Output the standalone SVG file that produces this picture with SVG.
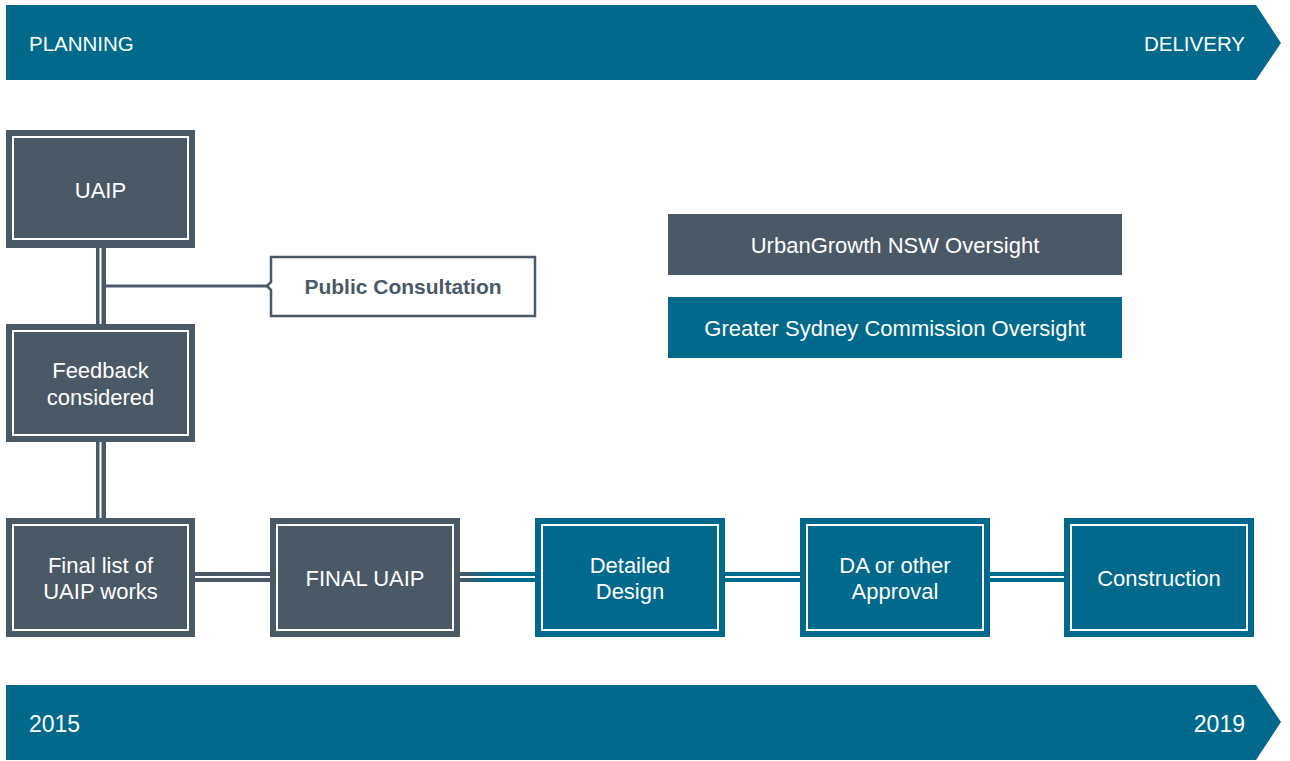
<svg xmlns="http://www.w3.org/2000/svg" width="1290" height="761" viewBox="0 0 1290 761">
  <defs>
    <style>
      .gray { fill: #4b5966; }
      .teal { fill: #00698c; }
      .inner { fill: none; stroke: #ffffff; stroke-width: 2; }
      .lbl { font-family: "Liberation Sans", Arial, sans-serif; font-size: 22px; fill: #ffffff; text-anchor: middle; }
      .leg { font-family: "Liberation Sans", Arial, sans-serif; font-size: 22px; fill: #ffffff; text-anchor: middle; }
      .ban { font-family: "Liberation Sans", Arial, sans-serif; font-size: 20.5px; fill: #ffffff; }
      .yr { font-family: "Liberation Sans", Arial, sans-serif; font-size: 23px; fill: #ffffff; }
      .wline { fill: none; stroke: #ffffff; stroke-width: 2; }
      .pc { font-family: "Liberation Sans", Arial, sans-serif; font-size: 21px; font-weight: bold; fill: #4b5966; text-anchor: middle; }
    </style>
    <linearGradient id="g2t" x1="460" y1="0" x2="535" y2="0" gradientUnits="userSpaceOnUse">
      <stop offset="0" stop-color="#4b5966"/>
      <stop offset="0.45" stop-color="#00698c"/>
      <stop offset="1" stop-color="#00698c"/>
    </linearGradient>
  </defs>

  <!-- Banners -->
  <g id="banner-top">
    <polygon class="teal" points="6,5 1256,5 1281,43 1256,80 6,80"/>
    <text class="ban" x="29" y="50.5">PLANNING</text>
    <text class="ban" x="1245" y="50.5" text-anchor="end">DELIVERY</text>
  </g>
  <g id="banner-bottom">
    <polygon class="teal" points="6,685 1256,685 1281,722 1256,760 6,760"/>
    <text class="yr" x="29" y="732">2015</text>
    <text class="yr" x="1245" y="732" text-anchor="end">2019</text>
  </g>

  <!-- Connectors -->
  <g id="connectors">
    <rect class="gray" x="96" y="247" width="10" height="78"/>
    <path class="wline" d="M96.5,239 L100.5,243 L104.5,239 M100.5,243 V332"/>
    <line x1="106" y1="286" x2="268" y2="286" stroke="#4b5966" stroke-width="3"/>
    <rect class="gray" x="96" y="441" width="10" height="78"/>
    <path class="wline" d="M96.5,435 L100.5,439 L104.5,435 M100.5,439 V526"/>
    <rect class="gray" x="194" y="572" width="77" height="10"/>
    <path class="wline" d="M188,573 L192,577 L188,581 M192,577 H278"/>
    <rect x="459" y="572" width="77" height="10" fill="url(#g2t)"/>
    <path class="wline" d="M453,573 L457,577 L453,581 M457,577 H543"/>
    <rect class="teal" x="724" y="572" width="77" height="10"/>
    <path class="wline" d="M718,573 L722,577 L718,581 M722,577 H808"/>
    <rect class="teal" x="989" y="572" width="76" height="10"/>
    <path class="wline" d="M983,573 L987,577 L983,581 M987,577 H1072"/>
  </g>

  <!-- Nodes -->
  <g id="node-uaip">
    <rect class="gray" x="6" y="130" width="189" height="118"/>
    <rect class="inner" x="13" y="137" width="175" height="102"/>
    <text class="lbl" x="100.5" y="198">UAIP</text>
  </g>

  <g id="node-public-consultation">
    <path d="M271,257 H535 V316 H271 V290 L267,286 L271,282 Z" fill="#ffffff" stroke="#4b5966" stroke-width="2.5"/>
    <text class="pc" x="403" y="294">Public Consultation</text>
  </g>

  <g id="node-feedback">
    <rect class="gray" x="6" y="324" width="189" height="118"/>
    <rect class="inner" x="13" y="331" width="175" height="104"/>
    <text class="lbl" x="100.5" y="378">Feedback</text>
    <text class="lbl" x="100.5" y="405">considered</text>
  </g>

  <g id="node-final-list">
    <rect class="gray" x="6" y="518" width="189" height="119"/>
    <rect class="inner" x="13" y="525" width="175" height="105"/>
    <text class="lbl" x="100.5" y="573">Final list of</text>
    <text class="lbl" x="100.5" y="599">UAIP works</text>
  </g>

  <g id="node-final-uaip">
    <rect class="gray" x="270" y="518" width="190" height="119"/>
    <rect class="inner" x="277" y="525" width="176" height="105"/>
    <text class="lbl" x="365" y="586">FINAL UAIP</text>
  </g>

  <g id="node-detailed-design">
    <rect class="teal" x="535" y="518" width="190" height="119"/>
    <rect class="inner" x="542" y="525" width="176" height="105"/>
    <text class="lbl" x="630" y="573">Detailed</text>
    <text class="lbl" x="630" y="599">Design</text>
  </g>

  <g id="node-da">
    <rect class="teal" x="800" y="518" width="190" height="119"/>
    <rect class="inner" x="807" y="525" width="176" height="105"/>
    <text class="lbl" x="895" y="573">DA or other</text>
    <text class="lbl" x="895" y="599">Approval</text>
  </g>

  <g id="node-construction">
    <rect class="teal" x="1064" y="518" width="190" height="119"/>
    <rect class="inner" x="1071" y="525" width="176" height="105"/>
    <text class="lbl" x="1159" y="586">Construction</text>
  </g>

  <!-- Legend -->
  <g id="legend-urbangrowth">
    <rect class="gray" x="668" y="214" width="454" height="61"/>
    <text class="leg" x="895" y="253">UrbanGrowth NSW Oversight</text>
  </g>
  <g id="legend-gsc">
    <rect class="teal" x="668" y="297" width="454" height="61"/>
    <text class="leg" x="895" y="335.5">Greater Sydney Commission Oversight</text>
  </g>
</svg>
